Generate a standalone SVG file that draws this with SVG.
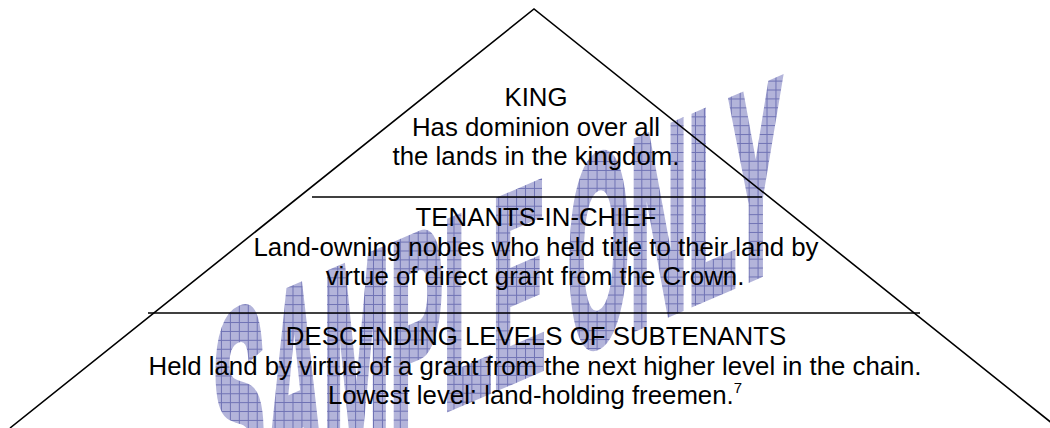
<svg xmlns="http://www.w3.org/2000/svg" width="1050" height="428" viewBox="0 0 1050 428">
<style>
.t{font-family:"Liberation Sans",Arial,sans-serif;font-size:25.8px;fill:#000;text-anchor:middle}
.ln{stroke:#000;stroke-width:1.6;fill:none}
.wm{font-family:"Liberation Sans",Arial,sans-serif;font-weight:bold;font-size:100px;fill:url(#grid);stroke:url(#grid);stroke-width:7;stroke-linejoin:miter}
</style>
<defs>
<pattern id="grid" patternUnits="userSpaceOnUse" width="9" height="9" patternTransform="scale(1.2422,0.369) skewY(23.27)">
<rect width="9" height="9" fill="#b3b4da"/>
<path d="M0 0.5H9M0.5 0V9" stroke="#6f72b4" stroke-width="1" fill="none"/>
</pattern>
</defs>
<rect width="1050" height="428" fill="#fff"/>
<g id="watermark">
<text class="wm" x="0" y="0" vector-effect="non-scaling-stroke" transform="translate(212,509) skewY(-23.27) scale(0.8,2.68)">SAMPLE ONLY</text>
</g>
<g id="pyramid">
<polyline class="ln" points="10,428 534,9 1058,428"/>
</g>
<g id="connectors">
<line class="ln" x1="312" y1="197" x2="762" y2="197"/>
<line class="ln" x1="148" y1="313" x2="920" y2="313"/>
</g>
<g id="tier-king">
<text class="t" x="536" y="106">KING</text>
<text class="t" x="536" y="136">Has dominion over all</text>
<text class="t" x="536" y="165">the lands in the kingdom.</text>
</g>
<g id="tier-tenants">
<text class="t" x="536" y="226">TENANTS-IN-CHIEF</text>
<text class="t" x="536" y="256">Land-owning nobles who held title to their land by</text>
<text class="t" x="535" y="285">virtue of direct grant from the Crown.</text>
</g>
<g id="tier-subtenants">
<text class="t" x="536" y="345">DESCENDING LEVELS OF SUBTENANTS</text>
<text class="t" x="535" y="375">Held land by virtue of a grant from the next higher level in the chain.</text>
<text class="t" x="535" y="404">Lowest level: land-holding freemen.<tspan font-size="15" dy="-11">7</tspan></text>
</g>
</svg>
